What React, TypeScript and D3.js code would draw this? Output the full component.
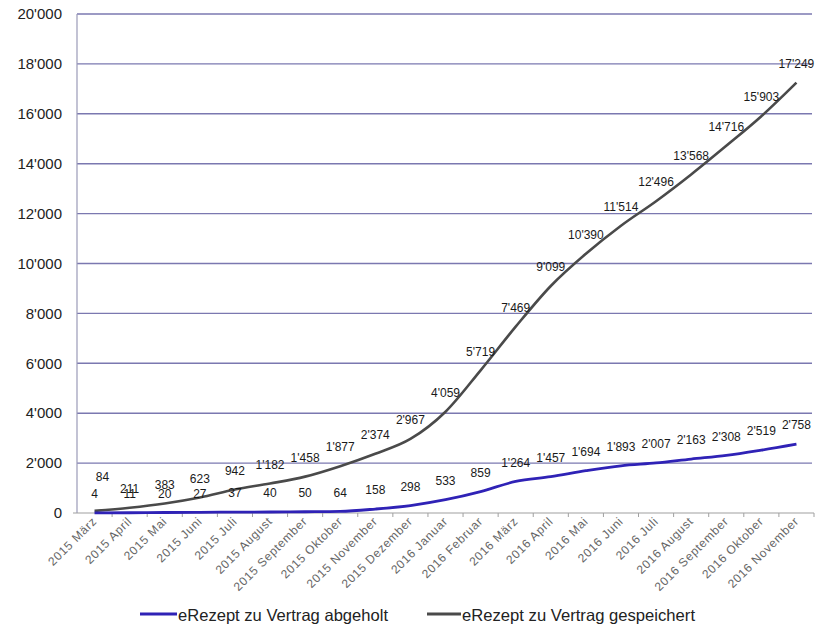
import React from 'react';
import * as d3 from 'd3';

const months = [
  '2015 März', '2015 April', '2015 Mai', '2015 Juni', '2015 Juli', '2015 August',
  '2015 September', '2015 Oktober', '2015 November', '2015 Dezember',
  '2016 Januar', '2016 Februar', '2016 März', '2016 April', '2016 Mai', '2016 Juni',
  '2016 Juli', '2016 August', '2016 September', '2016 Oktober', '2016 November',
];

const abgeholt = [4, 11, 20, 27, 37, 40, 50, 64, 158, 298, 533, 859, 1264, 1457, 1694, 1893, 2007, 2163, 2308, 2519, 2758];

const gespeichert = [84, 211, 383, 623, 942, 1182, 1458, 1877, 2374, 2967, 4059, 5719, 7469, 9099, 10390, 11514, 12496, 13568, 14716, 15903, 17249];

const yTicks = [0, 2000, 4000, 6000, 8000, 10000, 12000, 14000, 16000, 18000, 20000];

const seriesNames = ['eRezept zu Vertrag abgeholt', 'eRezept zu Vertrag gespeichert'];

const W = 817;
const H = 627;
const margin = { left: 77, right: 3, top: 14, bottom: 114 };

const BLUE = '#2f22b6';
const GREY = '#4a4a4a';
const FONT = '"Liberation Sans", Arial, sans-serif';

const locale = d3.formatLocale({ decimal: '.', thousands: "'", grouping: [3], currency: ['', ''] });
const fmt = locale.format(',');

const App: React.FC = () => {
  const x = d3.scaleBand<string>()
    .domain(months)
    .range([margin.left, W - margin.right]);

  const y = d3.scaleLinear()
    .domain([0, 20000])
    .range([H - margin.bottom, margin.top]);

  const cx = (i: number) => (x(months[i]) || 0) + x.bandwidth() / 2;

  const line = d3.line<number>()
    .x((_, i) => cx(i))
    .y(d => y(d))
    .curve(d3.curveMonotoneX);

  const x0 = margin.left;
  const x1 = W - margin.right;
  const yBase = y(0);

  // label y for each series; bump the grey one up when it would sit on the blue one
  const blueLabelY = abgeholt.map(v => y(v) - 19);
  const greyLabel = gespeichert.map((v, i) => {
    const ly = y(v) - 19;
    if (Math.abs(ly - blueLabelY[i]) < 4) return { x: cx(i) + 8, y: ly - 15 };
    return { x: cx(i), y: ly };
  });

  return (
    <svg width={W} height={H} style={{ position: 'absolute', left: 0, top: 0, background: '#fff' }}>
      {/* gridlines + y labels */}
      <g>
        {yTicks.map(t => (
          <g key={t}>
            {t > 0 && (
              <line x1={x0} x2={x1 - 2} y1={y(t)} y2={y(t)} stroke="#7b78b0" strokeWidth={1.4} />
            )}
            <text
              x={62}
              y={y(t)}
              dy="0.35em"
              textAnchor="end"
              fontFamily={FONT}
              fontSize={15}
              fill="#222"
            >
              {fmt(t)}
            </text>
          </g>
        ))}
      </g>

      {/* axes */}
      <line x1={x0} x2={x0} y1={y(20000)} y2={yBase} stroke="#9a9ab8" strokeWidth={1.2} />
      <line x1={x0 - 4} x2={x1} y1={yBase} y2={yBase} stroke="#a0a0a0" strokeWidth={1.2} />
      {months.map(m => (
        <line
          key={m}
          x1={(x(m) || 0) + x.bandwidth()}
          x2={(x(m) || 0) + x.bandwidth()}
          y1={yBase}
          y2={yBase + 4}
          stroke="#a0a0a0"
          strokeWidth={1}
        />
      ))}

      {/* x labels */}
      <g>
        {months.map((m, i) => (
          <text
            key={m}
            transform={`translate(${cx(i) + 3},${yBase + 9}) rotate(-45)`}
            textAnchor="end"
            fontFamily={FONT}
            fontSize={12}
            letterSpacing={0.7}
            fill="#666"
          >
            {m}
          </text>
        ))}
      </g>

      {/* lines */}
      <path d={line(gespeichert) || ''} fill="none" stroke={GREY} strokeWidth={2.6} />
      <path d={line(abgeholt) || ''} fill="none" stroke={BLUE} strokeWidth={2.8} />

      {/* data labels */}
      <g fontFamily={FONT} fontSize={12} fill="#1a1a1a" textAnchor="middle">
        {abgeholt.map((v, i) => (
          <text key={`a${i}`} x={cx(i)} y={blueLabelY[i]} dy="0.35em">{fmt(v)}</text>
        ))}
        {gespeichert.map((v, i) => (
          <text key={`g${i}`} x={greyLabel[i].x} y={greyLabel[i].y} dy="0.35em">{fmt(v)}</text>
        ))}
      </g>

      {/* legend */}
      <g fontFamily={FONT} fontSize={16.5} fill="#222">
        <line x1={140} x2={177} y1={614} y2={614} stroke={BLUE} strokeWidth={3.2} />
        <text x={178} y={615} dy="0.35em" textLength={210} lengthAdjust="spacingAndGlyphs">{seriesNames[0]}</text>
        <line x1={427} x2={461} y1={614} y2={614} stroke={GREY} strokeWidth={3.2} />
        <text x={462} y={615} dy="0.35em" textLength={233} lengthAdjust="spacingAndGlyphs">{seriesNames[1]}</text>
      </g>
    </svg>
  );
};

export default App;
